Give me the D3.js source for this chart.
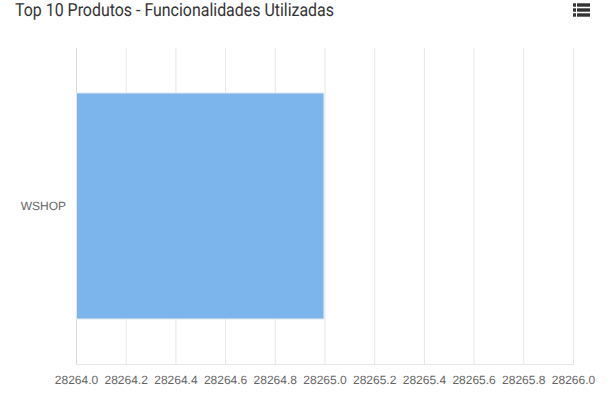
<!DOCTYPE html>
<html><head><meta charset="utf-8">
<script src="https://cdnjs.cloudflare.com/ajax/libs/d3/7.8.5/d3.min.js"></script>
<style>html,body{margin:0;padding:0;background:#fff;overflow:hidden}svg{display:block}text{text-rendering:geometricPrecision}</style>
</head><body><svg id="c" width="613" height="402"></svg>
<script>
const titleText = "Top 10 Produtos - Funcionalidades Utilizadas";
const categories = ["WSHOP"];
const seriesValues = [28265];
const tickValues = [28264.0,28264.2,28264.4,28264.6,28264.8,28265.0,28265.2,28265.4,28265.6,28265.8,28266.0];
const domainX = [28264, 28266];

const svg = d3.select("#c");
const x = d3.scaleLinear().domain(domainX).range([76.5, 573.5]);
const y = d3.scaleBand().domain(categories).range([48, 364]).paddingInner(0).paddingOuter(0.199);
const plotTop = 48, plotBottom = 364;

svg.append("text").attr("x",15).attr("y",16)
  .attr("font-family","Roboto").attr("font-size",18).attr("fill","#333")
  .attr("textLength",319).attr("lengthAdjust","spacingAndGlyphs").text(titleText);

// grid
svg.append("g").selectAll("line").data(tickValues).join("line")
  .attr("x1",d=>x(d)).attr("x2",d=>x(d))
  .attr("y1",plotTop).attr("y2",plotBottom)
  .attr("stroke",(d,i)=>i===0?"#d8d8d8":"#e6e6e6").attr("stroke-width",1);
svg.append("line").attr("x1",76).attr("x2",574).attr("y1",364.5).attr("y2",364.5).attr("stroke","#e6e6e6");

// bars
svg.append("g").selectAll("rect").data(seriesValues).join("rect")
  .attr("x",x(domainX[0])).attr("y",(d,i)=>y(categories[i]))
  .attr("width",d=>x(d)-x(domainX[0])-1).attr("height",y.bandwidth())
  .attr("fill","#7cb5ec").attr("stroke","#e4e8ec").attr("stroke-width",1);

// labels
svg.append("g").selectAll("text").data(tickValues).join("text")
  .attr("x",d=>x(d)).attr("y",383.5).attr("text-anchor","middle")
  .attr("font-family","Liberation Sans").attr("font-size",12).attr("fill","#666")
  .text(d=>d3.format(".1f")(d));
svg.append("g").selectAll("text").data(categories).join("text")
  .attr("x",66).attr("y",d=>y(d)+y.bandwidth()/2+3.5).attr("text-anchor","end")
  .attr("font-family","Liberation Sans").attr("font-size",12).attr("fill","#666").text(d=>d);

// menu icon
const icon = svg.append("g").attr("fill","#333");
[3.3,8.3,13.3].forEach(t=>{
  icon.append("rect").attr("x",573).attr("y",t).attr("width",3).attr("height",3.4);
  icon.append("rect").attr("x",577).attr("y",t).attr("width",13).attr("height",3.4);
});
</script></body></html>
